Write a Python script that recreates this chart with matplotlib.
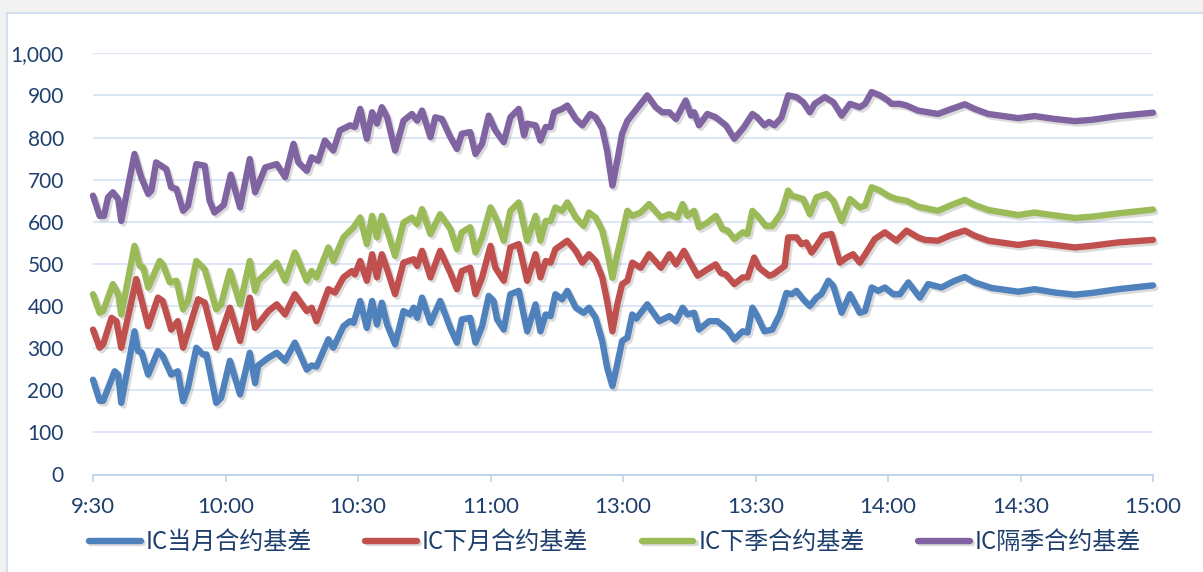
import matplotlib
matplotlib.use("Agg")
import matplotlib.pyplot as plt
import matplotlib.patheffects as pe
from matplotlib.patches import Rectangle

plt.rcParams['font.family'] = ['Lato', 'Noto Sans CJK SC', 'DejaVu Sans']

# trading minutes counted from 9:30 (lunch break removed: 11:30 == 13:00 == 120)
tick_pos = [0, 30, 60, 90, 120, 150, 180, 210, 240]
tick_labels = ['9:30', '10:00', '10:30', '11:00', '13:00', '13:30', '14:00', '14:30', '15:00']

series_names = ['IC当月合约基差', 'IC下月合约基差', 'IC下季合约基差', 'IC隔季合约基差']
colors = ['#4F81BD', '#C0504D', '#9BBB59', '#8064A2']

cur_t = [0, 1.5, 2.3, 4.9, 5.7, 6.4, 9.4, 10.2, 11, 12.5, 14.7, 15.8, 17.7, 19.2, 20.4, 21.5,
         23.4, 24.9, 25.7, 27.9, 29, 31, 33.3, 35.5, 36.7, 37.4, 39.7, 41.6, 43.5, 45.7, 48.4,
         49.5, 50.6, 53.3, 54.4, 56.7, 58.2, 59, 60.5, 62, 63.2, 64.3, 65.4, 66.6, 68.4, 70.3,
         71.8, 72.6, 73.4, 74.5, 76.4, 78.6, 80.9, 82.4, 83.5, 85.4, 86.6, 88.1, 89.6, 90.7,
         91.5, 93, 94.5, 96.4, 98.3, 100.2, 101.3, 102.5, 103.6, 104.7, 106.2, 107.4, 109.3,
         111.1, 112.3, 113.8, 115.3, 116.4, 117.6, 118.7, 119.8, 121, 122.1, 123, 125.5, 128.2,
         130.5, 132, 133.5, 134.6, 136.1, 137.2, 139.5, 141.4, 143.7, 145.2, 147.1, 148.2,
         149.3, 150.4, 152, 153.8, 155.5, 157, 158.2, 159.3, 160.8, 162.3, 163.8, 164.9, 166.5,
         167.6, 169.5, 171.4, 173.6, 174.8, 176.3, 177.8, 179.3, 181.2, 182.7, 184.6, 187.2,
         189.1, 192.1, 195.1, 197.4, 199.6, 203.4, 209.5, 213.2, 217.8, 222.3, 226.1, 232.1, 240]
cur_v = [225, 175, 175, 245, 237, 170, 340, 293, 290, 237, 293, 281, 237, 245, 174, 206,
         301, 285, 285, 170, 182, 270, 190, 289, 217, 259, 277, 289, 270, 313, 249,
         259, 256, 321, 301, 352, 364, 360, 412, 348, 412, 356, 408, 356, 309, 388,
         380, 396, 372, 420, 360, 412, 348, 313, 368, 372, 313, 352, 424, 412,
         368, 344, 428, 436, 340, 404, 340, 380, 376, 428, 416, 436, 396,
         384, 396, 372, 317, 254, 210, 262, 317, 325, 380, 370, 404, 364,
         376, 364, 396, 380, 384, 344, 364, 364, 344, 321, 340, 337,
         396, 376, 340, 344, 380, 431, 428, 436, 416, 400, 420, 428, 460,
         448, 384, 428, 384, 388, 444, 436, 444, 428, 428, 456, 420,
         452, 444, 460, 469, 456, 443, 434, 440, 432, 427, 431, 440, 449]

next_t = [0, 1.5, 2.3, 4.2, 5.3, 6.4, 9.8, 12.5, 14.7, 15.8, 17.7, 19.2, 20.4, 23.8, 25.3,
          27.9, 31, 33.3, 35.5, 36.7, 39.7, 41.6, 43.5, 45.7, 48.4, 49.5, 50.6, 53.3, 54.8,
          56.7, 58.6, 59.3, 60.5, 62, 63.2, 64.3, 65.4, 66.6, 68.4, 70.3, 72.6, 73.4, 74.5,
          76.4, 78.6, 80.9, 82.4, 83.5, 85.4, 86.6, 88.1, 90, 91.1, 93, 94.5, 96.4, 98.3,
          100.2, 101.3, 102.5, 103.6, 104.7, 107.4, 109.3, 110.8, 112.3, 113.8, 115.3, 116.4,
          117.6, 118.7, 119.8, 121, 122.1, 124, 125.9, 128.6, 130.5, 132, 133.8, 135, 136.9,
          139.1, 141, 142.1, 143.3, 145.2, 147.1, 148.2, 149.7, 150.8, 153.1, 154, 156.6,
          157.4, 159.3, 160.4, 161.5, 162.7, 163.8, 165.3, 167.2, 169.1, 170.6, 172.1, 173.6,
          175.1, 177, 179.3, 181.9, 184.2, 186.8, 188.3, 191.3, 194.4, 197.4, 199.6, 202.7,
          209.5, 213.2, 217.8, 222.3, 226.1, 232.1, 240]
next_v = [344, 301, 309, 372, 364, 301, 464, 352, 420, 412, 344, 364, 301, 416, 408,
          301, 396, 317, 420, 348, 388, 404, 380, 428, 388, 396, 364, 440, 432,
          468, 483, 475, 507, 460, 523, 468, 523, 487, 428, 503, 511, 495, 531,
          468, 531, 479, 440, 483, 491, 428, 468, 543, 491, 460, 539, 547, 460,
          523, 468, 507, 503, 535, 555, 531, 503, 523, 507, 468, 412,
          340, 404, 452, 460, 503, 491, 523, 491, 523, 499, 531, 507, 472,
          487, 499, 479, 475, 452, 468, 468, 515, 491, 472, 475, 495,
          563, 563, 547, 551, 527, 543, 567, 571, 503, 515, 523, 503,
          527, 559, 575, 555, 579, 563, 557, 555, 569, 579, 567, 555,
          545, 551, 545, 539, 543, 551, 557]

qtr_t = [0, 1.5, 2.3, 4.5, 5.7, 6.4, 9.4, 10.6, 11.4, 12.5, 15.1, 15.8, 17.4, 18.9, 20.4, 21.5,
         23.4, 25.3, 27.9, 29, 31, 33.3, 35.5, 36.7, 37.4, 39.7, 41.6, 43.5, 45.7, 48.4, 49.5,
         50.6, 53.3, 54.4, 56.7, 59, 60.5, 62, 63.2, 64.3, 65.4, 66.6, 68.4, 70.3, 72.2, 73.4,
         74.5, 76.4, 78.6, 80.9, 82.4, 83.5, 85.4, 86.6, 88.1, 90, 91.5, 93, 94.5, 96.4, 98.3,
         100.2, 101.3, 102.5, 103.6, 104.7, 106.2, 107.4, 109.3, 111.1, 112.3, 113.8, 115.3,
         116.4, 117.6, 118.7, 119.8, 121, 122.1, 124, 125.9, 128.6, 130.5, 132.3, 133.5, 134.6,
         136.1, 137.2, 139.1, 141, 142.5, 143.7, 145.2, 147.1, 148.2, 149.3, 150.8, 152.3,
         153.8, 155.9, 157.4, 158.2, 160.8, 162.3, 163.8, 166.1, 167.6, 169.5, 171.4, 173.6,
         174.8, 176.3, 178.2, 180, 181.9, 184.2, 186.8, 191.3, 194.4, 197.4, 199.6, 202.7,
         209.5, 213.2, 217.8, 222.3, 226.1, 232.1, 240]
qtr_v = [428, 384, 388, 452, 428, 380, 543, 495, 491, 444, 507, 499, 456, 460, 392, 412,
         507, 487, 392, 404, 483, 404, 507, 436, 460, 483, 503, 460, 527, 460, 483,
         468, 539, 507, 563, 587, 610, 547, 614, 563, 614, 579, 519, 598, 610, 594,
         630, 571, 618, 583, 535, 575, 587, 527, 563, 634, 602, 555, 626, 646, 555,
         614, 555, 602, 602, 634, 626, 646, 610, 590, 622, 610, 579,
         531, 467, 523, 571, 626, 614, 622, 642, 610, 618, 610, 642, 614,
         626, 587, 598, 614, 583, 579, 559, 575, 571, 626, 610, 590,
         590, 622, 674, 662, 654, 618, 658, 666, 650, 602, 654, 634,
         638, 682, 674, 662, 654, 650, 636, 626, 640, 652, 640, 628,
         616, 622, 615, 609, 612, 620, 629]

far_t = [0, 1.5, 2.5, 3.4, 4.5, 5.7, 6.4, 9.4, 10.9, 12.5, 13.2, 14.3, 16.6, 17.7, 18.9, 20.4,
         21.5, 23.4, 25.3, 26.4, 27.5, 29.6, 31.2, 33.3, 35.5, 36.7, 39, 41.6, 43.5, 45.4,
         46.5, 48.4, 49.5, 51, 52.5, 54.4, 55.9, 58.2, 59.3, 60.5, 62, 63.2, 64.3, 65.4, 66.6,
         68.4, 70.3, 72.2, 73.4, 74.5, 76.4, 77.5, 79, 80.9, 82.4, 83.5, 85.4, 86.6, 88.1,
         89.6, 91.1, 93, 94.5, 96.4, 97.6, 98.3, 100.2, 101.3, 102.5, 103.6, 104.4, 106.2,
         107.4, 109.3, 110.8, 112.6, 113.8, 115.3, 116.4, 117.6, 118.7, 119.8, 121, 122.5,
         125.5, 127.4, 128.9, 130.5, 132, 134.2, 135.4, 136.1, 137.2, 139.1, 141, 143.3,
         145.2, 147.4, 149.3, 150.4, 152, 153.1, 154.3, 155.9, 157.4, 159.3, 160.8, 162.3,
         163.4, 165.7, 167.6, 169.5, 171.4, 173.6, 174.8, 176.3, 178.2, 180, 180.8, 182.7,
         184.2, 186.8, 191.3, 194.4, 197.4, 199.6, 202.7, 209.5, 213.2, 217.8, 222.3, 226.1,
         232.1, 240]
far_v = [662, 614, 614, 658, 670, 654, 602, 761, 706, 666, 674, 741, 725, 682, 678, 626,
         638, 737, 733, 650, 622, 640, 712, 634, 749, 670, 729, 737, 706, 785,
         741, 721, 753, 745, 793, 769, 817, 829, 825, 868, 797, 860, 833, 872, 848,
         769, 840, 856, 840, 864, 801, 848, 844, 801, 773, 809, 813, 761, 785,
         852, 817, 789, 848, 868, 805, 833, 829, 793, 825, 825, 860, 868,
         876, 844, 829, 856, 848, 821, 769, 686, 745, 809, 840, 860,
         900, 872, 860, 860, 844, 888, 852, 860, 829, 856, 848, 829,
         797, 825, 856, 848, 829, 837, 829, 848, 900, 896, 884, 860,
         880, 896, 884, 852, 880, 872, 880, 908, 900, 888, 880, 880,
         876, 864, 856, 868, 879, 868, 856, 846, 851, 844, 839, 842,
         851, 859]

W, H = 1203, 572
fig = plt.figure(figsize=(W / 100, H / 100), dpi=100)
fig.patch.set_facecolor('#F2F2F2')
fig.patches.append(Rectangle((7 / W, -0.05), 1.1, (H - 13) / H + 0.05,
                             transform=fig.transFigure, facecolor='white',
                             edgecolor='#CCDCEF', linewidth=1.2, zorder=-5))

ax = fig.add_axes([93 / W, (H - 474.5) / H, 1060 / W, 421.2 / H])
ax.set_facecolor('none')
ax.set_zorder(2)

shadow = [pe.SimpleLineShadow(offset=(1.6, -1.8), shadow_color='#7f7f7f', alpha=0.28),
          pe.Normal()]
handles = []
for t, v, c, name in zip([cur_t, next_t, qtr_t, far_t],
                         [cur_v, next_v, qtr_v, far_v], colors, series_names):
    ln, = ax.plot(t, v, color=c, lw=4.6, solid_joinstyle='round',
                  solid_capstyle='round', clip_on=False, path_effects=shadow, label=name)
    handles.append(ln)

ax.set_xlim(0, 240)
ax.set_ylim(0, 1000)
ax.set_yticks(range(0, 1001, 100))
ax.set_yticklabels([f'{y:,}' for y in range(0, 1001, 100)])
ax.set_xticks(tick_pos)
ax.set_xticklabels(tick_labels)

for s in ['left', 'right', 'top']:
    ax.spines[s].set_visible(False)
ax.spines['bottom'].set_color('#BFD1E8')
ax.spines['bottom'].set_linewidth(1.3)
ax.yaxis.grid(True, color='#D6E2F2', lw=1.2)
ax.set_axisbelow(True)

txt = '#1F3F6E'
ax.tick_params(axis='y', length=0, pad=21, labelsize=15, labelcolor=txt)
ax.tick_params(axis='x', length=5, width=1.2, color='#BFD1E8', pad=11,
               labelsize=16, labelcolor=txt)

leg = fig.legend(handles, series_names, loc='center left',
                 bbox_to_anchor=(89 / W, (H - 542) / H), ncol=4, frameon=False,
                 prop={'family': ['Noto Sans CJK SC', 'DejaVu Sans'], 'size': 17.3},
                 handlelength=2.16, handletextpad=0.2, columnspacing=2.22,
                 borderpad=0, borderaxespad=0)
for t in leg.get_texts():
    t.set_color(txt)

fig.savefig('out.png', dpi=100, facecolor=fig.get_facecolor())
